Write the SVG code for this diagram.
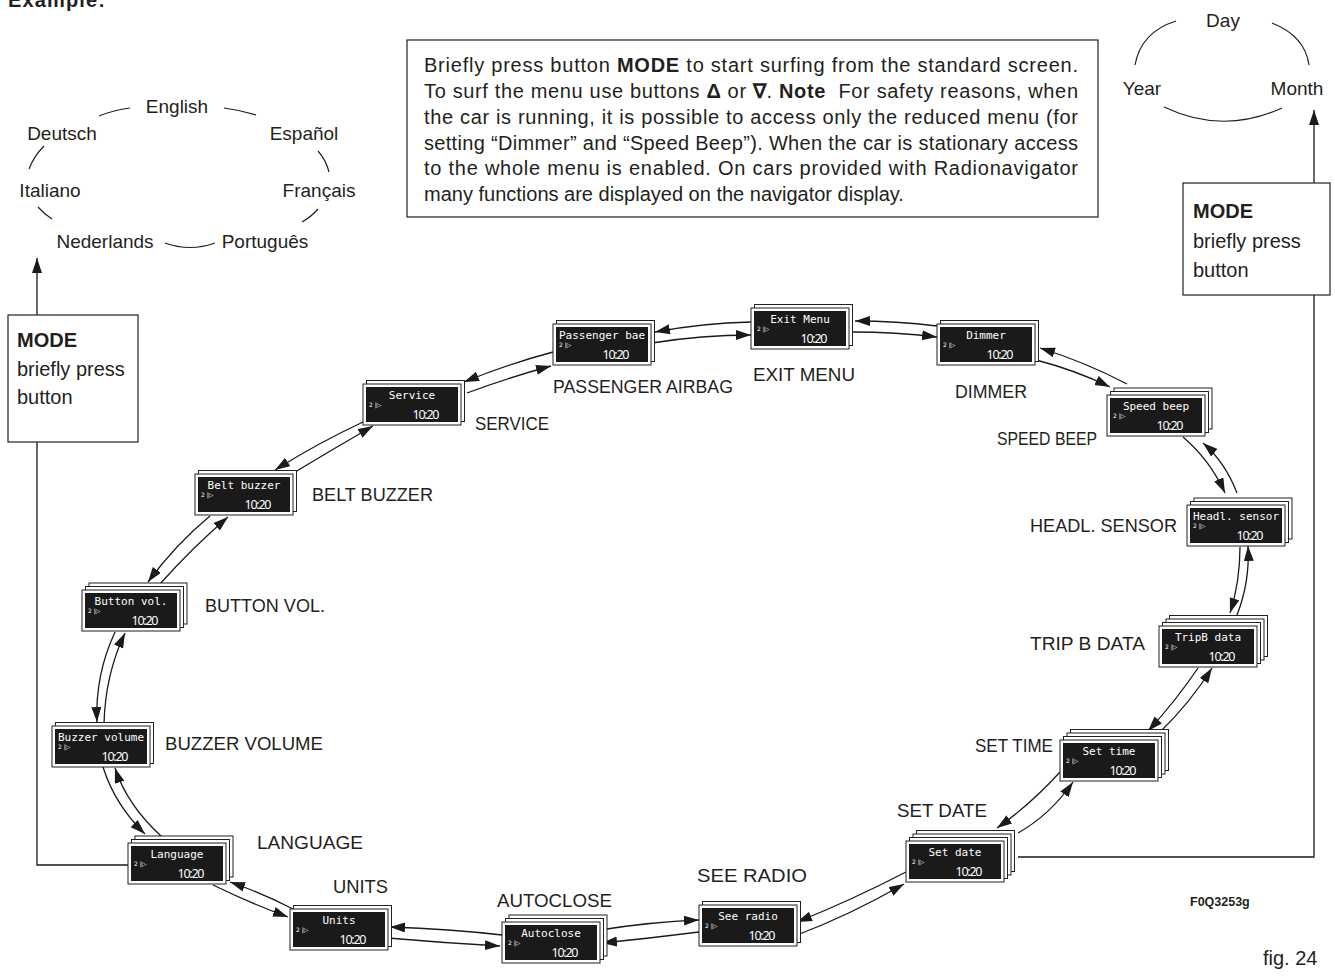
<svg xmlns="http://www.w3.org/2000/svg" width="1335" height="976" viewBox="0 0 1335 976">
<defs>
<marker id="ah" markerUnits="userSpaceOnUse" markerWidth="16" markerHeight="12" refX="15" refY="5" orient="auto"><path d="M0,0 L15,5 L0,10 z" fill="#1a1a1a"/></marker>
<style>
.txt{font-family:"Liberation Sans",Arial,sans-serif;fill:#231f20}
.lbl{font-size:18.5px}
.ring{font-size:19px;text-anchor:middle}
.para{font-size:20px}
.mode{font-size:20px}
.b{font-weight:bold}
.card{fill:#fff;stroke:#231f20;stroke-width:1}
.scr{fill:#1a1a1a}
.t{font-family:"DejaVu Sans Mono",monospace;font-size:11px;fill:#fff;text-anchor:middle}
.s{font-family:"DejaVu Sans",sans-serif;font-size:6px;fill:#fff}
.c{font-family:"Noto Sans","DejaVu Sans",sans-serif;font-size:12.5px;fill:#fff;text-anchor:middle}
.ar{fill:none;stroke:#1a1a1a;stroke-width:1.3;marker-end:url(#ah)}
.ln{fill:none;stroke:#231f20;stroke-width:1.2}
.box{fill:#fff;stroke:#231f20;stroke-width:1.2}
</style>
</defs>
<rect width="1335" height="976" fill="#fff"/>

<text class="txt b" x="8" y="7" font-size="20" textLength="97">Example:</text>

<g id="lang-ring">
<text class="txt ring" x="177" y="113">English</text>
<text class="txt ring" x="62" y="140">Deutsch</text>
<text class="txt ring" x="304" y="140">Español</text>
<text class="txt ring" x="50" y="197">Italiano</text>
<text class="txt ring" x="319" y="197">Français</text>
<text class="txt ring" x="105" y="248">Nederlands</text>
<text class="txt ring" x="265" y="248">Português</text>
<path class="ln" d="M99,116 Q114,110 130,108"/>
<path class="ln" d="M224,108 Q240,110 256,115"/>
<path class="ln" d="M44,146 Q34,156 29,169"/>
<path class="ln" d="M318,151 Q326,160 329,172"/>
<path class="ln" d="M38,207 Q44,214 52,219"/>
<path class="ln" d="M318,209 Q311,217 302,222"/>
<path class="ln" d="M165,243 Q190,252 215,243"/>
</g>

<g id="date-ring">
<text class="txt ring" x="1223" y="27">Day</text>
<text class="txt ring" x="1142" y="95">Year</text>
<text class="txt ring" x="1297" y="95">Month</text>
<path class="ln" d="M1176,21 Q1141,32 1135,65"/>
<path class="ln" d="M1272,23 Q1305,36 1309,65"/>
<path class="ln" d="M1164,107 Q1223,135 1282,108"/>
</g>

<g id="note">
<rect class="box" x="407" y="40" width="691" height="177"/>
<text class="txt para" x="424" y="72" textLength="654" lengthAdjust="spacing">Briefly press button <tspan class="b">MODE</tspan> to start surfing from the standard screen.</text>
<text class="txt para" x="424" y="98" textLength="654" lengthAdjust="spacing">To surf the menu use buttons <tspan class="b">Δ</tspan> or <tspan class="b">∇</tspan>. <tspan class="b">Note</tspan>&#160; For safety reasons, when</text>
<text class="txt para" x="424" y="124" textLength="654" lengthAdjust="spacing">the car is running, it is possible to access only the reduced menu (for</text>
<text class="txt para" x="424" y="150" textLength="654" lengthAdjust="spacing">setting “Dimmer” and “Speed Beep”). When the car is stationary access</text>
<text class="txt para" x="424" y="175" textLength="654" lengthAdjust="spacing">to the whole menu is enabled. On cars provided with Radionavigator</text>
<text class="txt para" x="424" y="201">many functions are displayed on the navigator display.</text>
</g>

<g id="connectors">
<path class="ar" d="M128,865 H37 V258"/>
<path class="ar" d="M1018,857 H1314 V110"/>
<path class="ar" d="M751,322 Q703,323 655,332"/>
<path class="ar" d="M652,343 Q702,335 751,335"/>
<path class="ar" d="M937,326 Q896,321 855,321"/>
<path class="ar" d="M853,332 Q895,332 937,337"/>
<path class="ar" d="M1036,360 Q1075,370 1110,387"/>
<path class="ar" d="M1127,384 Q1085,362 1040,348"/>
<path class="ar" d="M1183,437 Q1210,460 1225,493"/>
<path class="ar" d="M1237,493 Q1225,462 1203,443"/>
<path class="ar" d="M1240,547 Q1240,582 1230,613"/>
<path class="ar" d="M1237,615 Q1250,582 1248,546"/>
<path class="ar" d="M1198,668 Q1175,702 1148,731"/>
<path class="ar" d="M1160,732 Q1190,703 1212,668"/>
<path class="ar" d="M1060,772 Q1030,805 997,828"/>
<path class="ar" d="M1018,833 Q1050,815 1073,782"/>
<path class="ar" d="M906,872 Q852,900 797,922"/>
<path class="ar" d="M797,935 Q850,915 904,884"/>
<path class="ar" d="M600,930 Q650,922 699,920"/>
<path class="ar" d="M699,932 Q652,938 602,943"/>
<path class="ar" d="M502,935 Q450,929 390,927"/>
<path class="ar" d="M388,938 Q445,943 500,946"/>
<path class="ar" d="M213,885 Q250,903 288,917"/>
<path class="ar" d="M293,909 Q262,893 230,882"/>
<path class="ar" d="M103,767 Q115,805 145,834"/>
<path class="ar" d="M162,837 Q127,805 115,768"/>
<path class="ar" d="M115,632 Q95,675 97,722"/>
<path class="ar" d="M104,725 Q105,675 125,633"/>
<path class="ar" d="M210,516 Q175,545 148,582"/>
<path class="ar" d="M160,584 Q192,548 228,517"/>
<path class="ar" d="M363,422 Q318,443 275,470"/>
<path class="ar" d="M295,472 Q335,448 373,426"/>
<path class="ar" d="M553,352 Q508,364 464,382"/>
<path class="ar" d="M467,393 Q510,377 551,366"/>
</g>

<g id="mode-left">
<rect class="box" x="8" y="315" width="130" height="127"/>
<text class="txt mode b" x="17" y="347">MODE</text>
<text class="txt mode" x="17" y="376">briefly press</text>
<text class="txt mode" x="17" y="404">button</text>
</g>
<g id="mode-right">
<rect class="box" x="1183" y="183" width="147" height="112"/>
<text class="txt mode b" x="1193" y="218">MODE</text>
<text class="txt mode" x="1193" y="248">briefly press</text>
<text class="txt mode" x="1193" y="277">button</text>
</g>

<g id="n-exit" transform="translate(751,308)">
<rect class="card" x="3.5" y="-3.5" width="98" height="41"/>
<rect class="card" width="98" height="41"/><rect class="scr" x="3" y="3" width="92" height="35"/>
<text class="t" x="49" y="15">Exit Menu</text><text class="s" x="6" y="23">2 |▷</text><text class="c" x="63" y="35" textLength="27">10:20</text>
</g>
<g id="n-passenger" transform="translate(553,324)">
<rect class="card" x="3.5" y="-3.5" width="98" height="41"/>
<rect class="card" width="98" height="41"/><rect class="scr" x="3" y="3" width="92" height="35"/>
<text class="t" x="49" y="15">Passenger bae</text><text class="s" x="6" y="23">2 |▷</text><text class="c" x="63" y="35" textLength="27">10:20</text>
</g>
<g id="n-dimmer" transform="translate(937,324)">
<rect class="card" x="3.5" y="-3.5" width="98" height="41"/>
<rect class="card" width="98" height="41"/><rect class="scr" x="3" y="3" width="92" height="35"/>
<text class="t" x="49" y="15">Dimmer</text><text class="s" x="6" y="23">2 |▷</text><text class="c" x="63" y="35" textLength="27">10:20</text>
</g>
<g id="n-speed" transform="translate(1107,395)">
<rect class="card" x="7" y="-7" width="98" height="41"/><rect class="card" x="3.5" y="-3.5" width="98" height="41"/>
<rect class="card" width="98" height="41"/><rect class="scr" x="3" y="3" width="92" height="35"/>
<text class="t" x="49" y="15">Speed beep</text><text class="s" x="6" y="23">2 |▷</text><text class="c" x="63" y="35" textLength="27">10:20</text>
</g>
<g id="n-headl" transform="translate(1187,505)">
<rect class="card" x="7" y="-7" width="98" height="41"/><rect class="card" x="3.5" y="-3.5" width="98" height="41"/>
<rect class="card" width="98" height="41"/><rect class="scr" x="3" y="3" width="92" height="35"/>
<text class="t" x="49" y="15">Headl. sensor</text><text class="s" x="6" y="23">2 |▷</text><text class="c" x="63" y="35" textLength="27">10:20</text>
</g>
<g id="n-tripb" transform="translate(1159,626)">
<rect class="card" x="10.5" y="-10.5" width="98" height="41"/><rect class="card" x="7" y="-7" width="98" height="41"/><rect class="card" x="3.5" y="-3.5" width="98" height="41"/>
<rect class="card" width="98" height="41"/><rect class="scr" x="3" y="3" width="92" height="35"/>
<text class="t" x="49" y="15">TripB data</text><text class="s" x="6" y="23">2 |▷</text><text class="c" x="63" y="35" textLength="27">10:20</text>
</g>
<g id="n-settime" transform="translate(1060,740)">
<rect class="card" x="10.5" y="-10.5" width="98" height="41"/><rect class="card" x="7" y="-7" width="98" height="41"/><rect class="card" x="3.5" y="-3.5" width="98" height="41"/>
<rect class="card" width="98" height="41"/><rect class="scr" x="3" y="3" width="92" height="35"/>
<text class="t" x="49" y="15">Set time</text><text class="s" x="6" y="23">2 |▷</text><text class="c" x="63" y="35" textLength="27">10:20</text>
</g>
<g id="n-setdate" transform="translate(906,841)">
<rect class="card" x="10.5" y="-10.5" width="98" height="41"/><rect class="card" x="7" y="-7" width="98" height="41"/><rect class="card" x="3.5" y="-3.5" width="98" height="41"/>
<rect class="card" width="98" height="41"/><rect class="scr" x="3" y="3" width="92" height="35"/>
<text class="t" x="49" y="15">Set date</text><text class="s" x="6" y="23">2 |▷</text><text class="c" x="63" y="35" textLength="27">10:20</text>
</g>
<g id="n-seeradio" transform="translate(699,905)">
<rect class="card" x="3.5" y="-3.5" width="98" height="41"/>
<rect class="card" width="98" height="41"/><rect class="scr" x="3" y="3" width="92" height="35"/>
<text class="t" x="49" y="15">See radio</text><text class="s" x="6" y="23">2 |▷</text><text class="c" x="63" y="35" textLength="27">10:20</text>
</g>
<g id="n-autoclose" transform="translate(502,922)">
<rect class="card" x="7" y="-7" width="98" height="41"/><rect class="card" x="3.5" y="-3.5" width="98" height="41"/>
<rect class="card" width="98" height="41"/><rect class="scr" x="3" y="3" width="92" height="35"/>
<text class="t" x="49" y="15">Autoclose</text><text class="s" x="6" y="23">2 |▷</text><text class="c" x="63" y="35" textLength="27">10:20</text>
</g>
<g id="n-units" transform="translate(290,909)">
<rect class="card" x="3.5" y="-3.5" width="98" height="41"/>
<rect class="card" width="98" height="41"/><rect class="scr" x="3" y="3" width="92" height="35"/>
<text class="t" x="49" y="15">Units</text><text class="s" x="6" y="23">2 |▷</text><text class="c" x="63" y="35" textLength="27">10:20</text>
</g>
<g id="n-language" transform="translate(128,843)">
<rect class="card" x="7" y="-7" width="98" height="41"/><rect class="card" x="3.5" y="-3.5" width="98" height="41"/>
<rect class="card" width="98" height="41"/><rect class="scr" x="3" y="3" width="92" height="35"/>
<text class="t" x="49" y="15">Language</text><text class="s" x="6" y="23">2 |▷</text><text class="c" x="63" y="35" textLength="27">10:20</text>
</g>
<g id="n-buzzer" transform="translate(52,726)">
<rect class="card" x="3.5" y="-3.5" width="98" height="41"/>
<rect class="card" width="98" height="41"/><rect class="scr" x="3" y="3" width="92" height="35"/>
<text class="t" x="49" y="15">Buzzer volume</text><text class="s" x="6" y="23">2 |▷</text><text class="c" x="63" y="35" textLength="27">10:20</text>
</g>
<g id="n-buttonvol" transform="translate(82,590)">
<rect class="card" x="7" y="-7" width="98" height="41"/><rect class="card" x="3.5" y="-3.5" width="98" height="41"/>
<rect class="card" width="98" height="41"/><rect class="scr" x="3" y="3" width="92" height="35"/>
<text class="t" x="49" y="15">Button vol.</text><text class="s" x="6" y="23">2 |▷</text><text class="c" x="63" y="35" textLength="27">10:20</text>
</g>
<g id="n-belt" transform="translate(195,474)">
<rect class="card" x="3.5" y="-3.5" width="98" height="41"/>
<rect class="card" width="98" height="41"/><rect class="scr" x="3" y="3" width="92" height="35"/>
<text class="t" x="49" y="15">Belt buzzer</text><text class="s" x="6" y="23">2 |▷</text><text class="c" x="63" y="35" textLength="27">10:20</text>
</g>
<g id="n-service" transform="translate(363,384)">
<rect class="card" x="3.5" y="-3.5" width="98" height="41"/>
<rect class="card" width="98" height="41"/><rect class="scr" x="3" y="3" width="92" height="35"/>
<text class="t" x="49" y="15">Service</text><text class="s" x="6" y="23">2 |▷</text><text class="c" x="63" y="35" textLength="27">10:20</text>
</g>

<g id="labels">
<text class="txt lbl" x="753" y="381" textLength="102" lengthAdjust="spacingAndGlyphs">EXIT MENU</text>
<text class="txt lbl" x="553" y="393" textLength="180" lengthAdjust="spacingAndGlyphs">PASSENGER AIRBAG</text>
<text class="txt lbl" x="955" y="398" textLength="72" lengthAdjust="spacingAndGlyphs">DIMMER</text>
<text class="txt lbl" x="997" y="445" textLength="100" lengthAdjust="spacingAndGlyphs">SPEED BEEP</text>
<text class="txt lbl" x="1030" y="532" textLength="147" lengthAdjust="spacingAndGlyphs">HEADL. SENSOR</text>
<text class="txt lbl" x="1030" y="650" textLength="115" lengthAdjust="spacingAndGlyphs">TRIP B DATA</text>
<text class="txt lbl" x="975" y="752" textLength="78" lengthAdjust="spacingAndGlyphs">SET TIME</text>
<text class="txt lbl" x="897" y="817" textLength="90" lengthAdjust="spacingAndGlyphs">SET DATE</text>
<text class="txt lbl" x="697" y="882" textLength="110" lengthAdjust="spacingAndGlyphs">SEE RADIO</text>
<text class="txt lbl" x="497" y="907" textLength="115" lengthAdjust="spacingAndGlyphs">AUTOCLOSE</text>
<text class="txt lbl" x="333" y="893" textLength="55" lengthAdjust="spacingAndGlyphs">UNITS</text>
<text class="txt lbl" x="257" y="849" textLength="106" lengthAdjust="spacingAndGlyphs">LANGUAGE</text>
<text class="txt lbl" x="165" y="750" textLength="158" lengthAdjust="spacingAndGlyphs">BUZZER VOLUME</text>
<text class="txt lbl" x="205" y="612" textLength="120" lengthAdjust="spacingAndGlyphs">BUTTON VOL.</text>
<text class="txt lbl" x="312" y="501" textLength="121" lengthAdjust="spacingAndGlyphs">BELT BUZZER</text>
<text class="txt lbl" x="475" y="430" textLength="74" lengthAdjust="spacingAndGlyphs">SERVICE</text>
</g>

<text class="txt b" x="1190" y="906" font-size="12.5">F0Q3253g</text>
<text class="txt" x="1263" y="965" font-size="20">fig. 24</text>
</svg>
